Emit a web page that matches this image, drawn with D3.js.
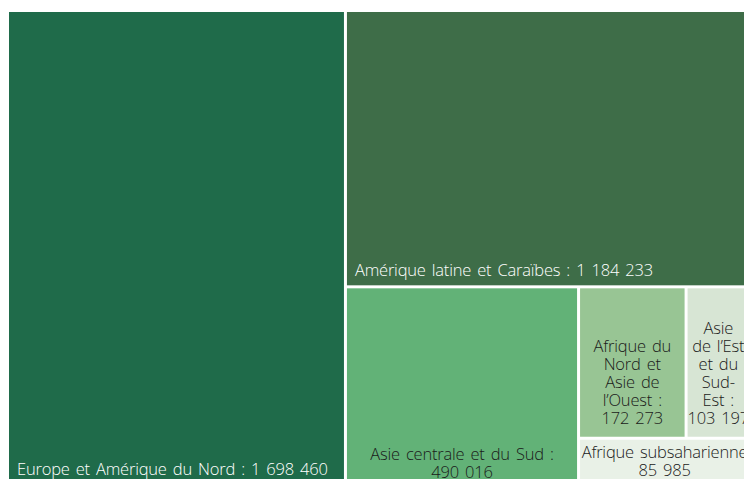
<!DOCTYPE html>
<html>
<head>
<meta charset="utf-8">
<script src="https://cdn.jsdelivr.net/npm/d3@7"></script>
<style>
  body { margin: 0; background: #fff; }
  svg { display: block; font-family: "Open Sans", sans-serif; }
</style>
</head>
<body>
<div id="chart"></div>
<script>
// Regions and values
var regions = [
  "Europe et Amérique du Nord",
  "Amérique latine et Caraïbes",
  "Asie centrale et du Sud",
  "Afrique du Nord et Asie de l’Ouest",
  "Asie de l’Est et du Sud-Est",
  "Afrique subsaharienne"
];
var values = [1698460, 1184233, 490016, 172273, 103197, 85985];
// Label lines as they are wrapped in the picture
var labelLines = [
  ["Europe et Amérique du Nord : 1\u00A0698\u00A0460"],
  ["Amérique latine et Caraïbes : 1\u00A0184\u00A0233"],
  ["Asie centrale et du Sud :", "490\u00A0016"],
  ["Afrique du", "Nord et", "Asie de", "l’Ouest :", "172\u00A0273"],
  ["Asie", "de l’Est", "et du", "Sud-", "Est :", "103\u00A0197"],
  ["Afrique subsaharienne", "85\u00A0985"]
];
var colors = ["#1f6b4a", "#3e6d48", "#62b277", "#98c594", "#d7e5d4", "#e9f1e7"];
var textColors = ["#ffffff", "#ffffff", "#1a1a1a", "#1a1a1a", "#1a1a1a", "#1a1a1a"];
var leftAligned = [true, true, false, false, false, false];
var bottomInset = [9, 9, 6, 13, 13, 8];
// how many cells go in each strip of the layout
var rowGroups = [1, 1, 1, 2, 1];

var w = 744;
var h = 479;

var svg = d3.select("#chart")
  .append("svg")
  .attr("width", w)
  .attr("height", h);

var data = {
  name: "root",
  children: regions.map(function (r, i) {
    return { name: r, value: values[i], idx: i };
  })
};

// squarify-like tiling with fixed strips
function tile(parent, x0, y0, x1, y1) {
  var nodes = parent.children, i = 0, value = parent.value;
  rowGroups.forEach(function (n) {
    var row = nodes.slice(i, i + n);
    i += n;
    var rv = d3.sum(row, function (d) { return d.value; });
    var dx = x1 - x0, dy = y1 - y0;
    if (dx >= dy) {
      var cx = x0 + dx * rv / value;
      d3.treemapSlice({ children: row, value: rv }, x0, y0, cx, y1);
      x0 = cx;
    } else {
      var cy = y0 + dy * rv / value;
      d3.treemapDice({ children: row, value: rv }, x0, y0, x1, cy);
      y0 = cy;
    }
    value -= rv;
  });
}

var root = d3.hierarchy(data)
  .sum(function (d) { return d.value || 0; })
  .sort(function (a, b) { return b.value - a.value; });

d3.treemap()
  .tile(tile)
  .size([740, 472])
  .paddingInner(3)(root);

var g = svg.append("g").attr("transform", "translate(9,12)");

var cell = g.selectAll("g.cell")
  .data(root.leaves())
  .enter()
  .append("g")
  .attr("class", "cell");

cell.append("rect")
  .attr("x", function (d) { return d.x0; })
  .attr("y", function (d) { return d.y0; })
  .attr("width", function (d) { return d.x1 - d.x0; })
  .attr("height", function (d) { return d.y1 - d.y0; })
  .attr("fill", function (d) { return colors[d.data.idx]; });

var lineH = 18;
cell.append("text")
  .attr("font-size", 16.5)
  .attr("font-weight", 300)
  .attr("letter-spacing", -0.2)
  .attr("word-spacing", 2)
  .attr("fill", function (d) { return textColors[d.data.idx]; })
  .attr("text-anchor", function (d) { return leftAligned[d.data.idx] ? "start" : "middle"; })
  .each(function (d) {
    var lines = labelLines[d.data.idx];
    var x = leftAligned[d.data.idx] ? d.x0 + 8 : (d.x0 + d.x1) / 2;
    var yLast = d.y1 - bottomInset[d.data.idx];
    var t = d3.select(this);
    lines.forEach(function (l, k) {
      t.append("tspan")
        .attr("x", x)
        .attr("y", yLast - (lines.length - 1 - k) * lineH)
        .text(l);
    });
  });
</script>
</body>
</html>
